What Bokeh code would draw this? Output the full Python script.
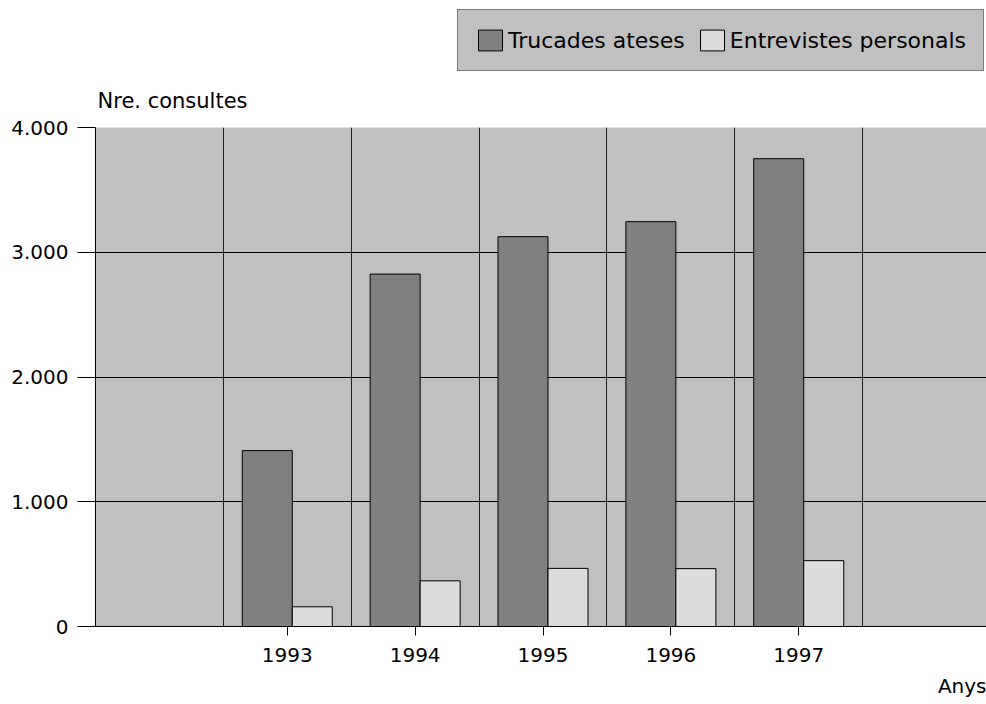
from bokeh.plotting import figure
from bokeh.layouts import column
from bokeh.models import Range1d, FixedTicker, Legend, LegendItem, Title, Label
from bokeh.embed import file_html
from bokeh.resources import INLINE

# ---- data ----
years = ["1993", "1994", "1995", "1996", "1997"]
trucades = [1410, 2825, 3125, 3245, 3750]
entrevistes = [158, 366, 466, 464, 528]
y_ticks = [0, 1000, 2000, 3000, 4000]
y_tick_labels = ["0", "1.000", "2.000", "3.000", "4.000"]
series_names = ["Trucades ateses", "Entrevistes personals"]
y_title = "Nre. consultes"
x_title = "Anys"

# ---- layout / style ----
FONT = "DejaVu Sans"
DARK, LIGHT, BG = "#808080", "#dcdcdc", "#c0c0c0"
SLOT_PX = 127.86
W = 986
TOP_H = 115            # header strip (legend + y title)
MAIN_H = 704 - TOP_H
ML, MR, MT, MB = 95, 0, 12, 77
FW = W - ML - MR
Y_MAX = 4000

centers = [i + 1.5 for i in range(len(years))]  # first slot stays empty
dl, dr, lr = -0.352, 0.039, 0.352
dark_left = [c + dl for c in centers]
dark_right = [c + dr for c in centers]
light_left = dark_right
light_right = [c + lr for c in centers]

# ---------- header: legend and y-axis title ----------
# (its frame is aligned with the main frame by the column layout)
top = figure(width=W, height=TOP_H, output_backend="svg", toolbar_location=None,
             x_range=Range1d(0, FW), y_range=Range1d(0, TOP_H),
             x_axis_location=None, y_axis_location=None,
             min_border=0, outline_line_color=None)
top.grid.visible = False
top.background_fill_color = "white"
top.border_fill_color = "white"
# legend keys: the same series, falling outside this strip's range
k1 = top.quad(left=dark_left, right=dark_right, bottom=trucades, top=trucades,
              fill_color=DARK, line_color="black", line_width=1)
k2 = top.quad(left=light_left, right=light_right, bottom=entrevistes,
              top=entrevistes, fill_color=LIGHT, line_color="black",
              line_width=1)
legend = Legend(items=[LegendItem(label=series_names[0], renderers=[k1]),
                       LegendItem(label=series_names[1], renderers=[k2])],
                location=(457 - ML, TOP_H - 71), orientation="horizontal",
                glyph_width=30, glyph_height=26, label_standoff=3, spacing=12,
                padding=17, margin=0,
                label_text_font=FONT, label_text_font_size="22px",
                label_text_color="black",
                background_fill_color=BG, background_fill_alpha=1,
                border_line_color="#333333", border_line_width=1)
top.add_layout(legend)
top.add_layout(Label(x=2, y=TOP_H - 100, text=y_title, text_font=FONT,
                     text_font_size="21px", text_color="black",
                     text_baseline="middle"))

# ---------- main chart ----------
p = figure(width=W, height=MAIN_H, output_backend="svg", toolbar_location=None,
           x_range=Range1d(0, FW / SLOT_PX), y_range=Range1d(0, Y_MAX),
           min_border_left=ML, min_border_right=MR, min_border_top=MT,
           min_border_bottom=MB)
p.background_fill_color = BG
p.border_fill_color = "white"
p.outline_line_color = None   # plot area runs past the right edge

p.xgrid.ticker = FixedTicker(ticks=[1, 2, 3, 4, 5, 6])
p.ygrid.ticker = FixedTicker(ticks=[1000, 2000, 3000, 4000])
for g in (p.xgrid, p.ygrid):
    g.grid_line_color = "black"
    g.grid_line_width = 1
    g.grid_line_alpha = 1
p.xgrid.grid_line_color = "#202020"

p.quad(left=dark_left, right=dark_right, bottom=0, top=trucades,
       fill_color=DARK, line_color="black", line_width=1)
p.quad(left=light_left, right=light_right, bottom=0, top=entrevistes,
       fill_color=LIGHT, line_color="black", line_width=1)

xa = p.xaxis[0]
xa.ticker = FixedTicker(ticks=centers)
xa.major_label_overrides = {c: y for c, y in zip(centers, years)}
xa.major_tick_in = 0
xa.major_tick_out = 9
xa.minor_tick_line_color = None
xa.axis_line_color = "black"
xa.major_tick_line_color = "black"
xa.major_label_text_font = FONT
xa.major_label_text_font_size = "20px"
xa.major_label_text_color = "black"
xa.major_label_standoff = 12

ya = p.yaxis[0]
ya.ticker = FixedTicker(ticks=y_ticks)
ya.major_label_overrides = {t: s for t, s in zip(y_ticks, y_tick_labels)}
ya.major_tick_in = 0
ya.major_tick_out = 18
ya.minor_tick_line_color = None
ya.axis_line_color = "black"
ya.major_tick_line_color = "black"
ya.major_label_text_font = FONT
ya.major_label_text_font_size = "20px"
ya.major_label_text_color = "black"
ya.major_label_standoff = 9

p.add_layout(Title(text=x_title, align="right", offset=0, standoff=14,
                   text_font=FONT, text_font_size="20px",
                   text_font_style="normal", text_color="black"), "below")

layout = column(top, p, spacing=0)
open("out.html", "w").write(file_html(layout, INLINE))
